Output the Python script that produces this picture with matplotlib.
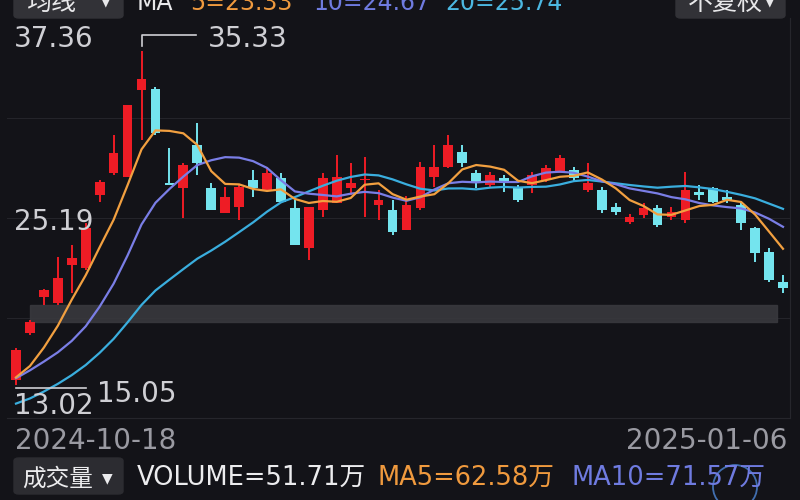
import numpy as np
import matplotlib.pyplot as plt
from matplotlib.patches import FancyBboxPatch, Rectangle, Ellipse
from matplotlib.transforms import blended_transform_factory

plt.rcParams['font.family'] = ['DejaVu Sans', 'Noto Sans CJK SC']

# daily candles, 2024-10-18 .. 2025-01-06
opens = [15.33, 18.19, 20.38, 20.02, 22.33, 22.15, 26.59, 27.93, 27.69, 32.98,
         33.04, 27.30, 27.02, 29.63, 27.02, 25.49, 25.86, 27.50, 26.89, 27.62,
         25.80, 23.36, 25.68, 26.10, 27.02, 27.50, 25.98, 25.68, 24.46, 25.80,
         27.69, 28.29, 29.21, 27.93, 27.20, 27.62, 27.08, 27.20, 27.50, 27.93,
         28.11, 26.89, 26.89, 25.86, 24.95, 25.37, 25.80, 25.25, 25.07, 26.77,
         27.02, 26.47, 25.98, 24.58, 23.12, 21.30]
highs = [17.25, 18.98, 20.87, 22.82, 23.55, 24.89, 27.50, 30.24, 32.07, 35.33,
         33.16, 29.45, 28.54, 30.97, 27.32, 27.08, 27.20, 28.11, 28.29, 27.93,
         26.29, 25.86, 27.93, 29.02, 28.54, 28.90, 26.89, 26.29, 26.53, 28.60,
         29.63, 30.24, 29.63, 28.11, 27.99, 27.81, 27.20, 27.99, 28.41, 29.02,
         28.29, 28.54, 27.08, 26.10, 25.43, 26.10, 25.98, 25.86, 27.99, 27.20,
         27.08, 26.89, 26.16, 24.64, 23.36, 21.72]
lows = [15.05, 18.07, 19.90, 19.90, 20.63, 22.03, 26.16, 27.81, 27.69, 29.94,
        30.24, 27.18, 25.19, 27.81, 25.68, 25.49, 25.07, 26.47, 26.89, 26.10,
        23.55, 22.63, 25.25, 26.10, 26.59, 25.25, 25.07, 24.16, 24.46, 25.68,
        27.08, 28.23, 28.29, 27.02, 27.08, 26.77, 26.16, 26.71, 27.38, 27.93,
        27.38, 26.77, 25.49, 25.37, 24.83, 25.19, 24.64, 25.07, 24.89, 26.29,
        26.10, 26.10, 24.46, 22.51, 21.30, 20.63]
closes = [17.16, 18.86, 20.81, 21.54, 22.76, 24.58, 27.38, 29.15, 32.07, 33.65,
          30.36, 27.22, 28.41, 28.54, 25.68, 26.47, 27.08, 27.02, 27.93, 26.16,
          23.55, 25.86, 27.62, 27.69, 27.32, 27.58, 26.29, 24.34, 25.98, 28.29,
          28.29, 29.63, 28.54, 27.32, 27.81, 27.32, 26.29, 27.81, 28.23, 28.84,
          27.62, 27.32, 25.68, 25.55, 25.25, 25.80, 24.76, 25.55, 26.89, 26.59,
          26.16, 26.29, 24.89, 23.06, 21.42, 20.93]
# closes before the visible window (estimated from where the MA lines start)
prior_closes = [12.6, 12.4, 12.2, 12.1, 12.3, 12.5, 12.2, 12.0, 12.4, 12.8,
                14.08, 15.49, 15.9, 15.8, 15.7, 15.4, 15.2, 14.9, 14.8]

date_labels = ['2024-10-18', '2025-01-06']
price_top, price_bottom = 37.36, 13.02
ma_header = {5: 23.33, 10: 24.67, 20: 25.74}
vol_header = {'VOLUME': 51.71, 'MA5': 62.58, 'MA10': 71.57}

bg = '#131318'
up_col = '#ee1c25'
down_col = '#74e4ee'
ma_cols = {5: '#f2a040', 10: '#7a7ee6', 20: '#3aaede'}
ma_txt = {5: '#f09a3e', 10: '#6f7be0', 20: '#4cb8e2'}
lbl = '#cfcfd4'

W, H = 800, 500
def fx(x): return x / W
def fy(y): return 1 - y / H

fig = plt.figure(figsize=(8, 5), dpi=100, facecolor=bg)
ax = fig.add_axes([fx(7), fy(418), fx(790) - fx(7), (418 - 18) / H], facecolor=bg)

n = len(closes)
x = np.arange(n)
o, h, l, c = map(np.array, (opens, highs, lows, closes))
step = (783 - 16) / (n - 1)
ax.set_xlim(-(16 - 7) / step, n - 1 + (790 - 783) / step)
ax.set_ylim(price_bottom, price_top)
ax.set_xticks([])
ax.set_yticks([])
for s in ax.spines.values():
    s.set_color('#26262c')
ax.spines['top'].set_visible(False)
ax.spines['left'].set_visible(False)

# grid
mid = (price_top + price_bottom) / 2
q = (price_top - price_bottom) / 4
for yv in (mid - q, mid, mid + q):
    ax.axhline(yv, color='#24242a', lw=0.8, zorder=0)

# gray overlay band (under the MA lines)
ax.add_patch(Rectangle((fx(30), fy(322)), fx(777) - fx(30), (322 - 305) / H,
                       transform=fig.transFigure, color='#3a3a3f', alpha=0.85, zorder=1))

# candles
cols = np.where(c >= o, up_col, down_col)
ax.vlines(x, l, h, colors=cols, lw=1.4, zorder=2)
body = np.maximum(np.abs(c - o), 0.08)
ax.bar(x, body, bottom=np.minimum(o, c), width=0.7, color=cols, zorder=3)

# moving averages
allc = np.array(prior_closes + closes)
k0 = len(prior_closes)
for w in (20, 10, 5):
    ma = np.convolve(allc, np.ones(w) / w, mode='valid')[k0 - w + 1:]
    ax.plot(x, ma, color=ma_cols[w], lw=1.6, zorder=4)

# price labels
fig.text(fx(14), fy(47), f'{price_top:.2f}', fontsize=20, color=lbl, va='baseline')
fig.text(fx(14), fy(230), f'{mid:.2f}', fontsize=20, color=lbl, va='baseline')
fig.text(fx(14), fy(414), f'{price_bottom:.2f}', fontsize=20, color=lbl, va='baseline')

# max / min markers
bt = blended_transform_factory(ax.transData, fig.transFigure)
ti = int(np.argmax(h))
ax.plot([ti, ti, ti + 54 / step], [fy(46), fy(35), fy(35)], color=lbl, lw=1.2,
        transform=bt, clip_on=False, zorder=5)
fig.text(fx(16 + ti * step + 66), fy(47), f'{h[ti]:.2f}', fontsize=20, color=lbl, va='baseline')
bi = int(np.argmin(l))
ax.plot([bi, bi + 70 / step], [fy(388), fy(388)], color=lbl, lw=1.2,
        transform=bt, clip_on=False, zorder=5)
fig.text(fx(16 + bi * step + 81), fy(402), f'{l[bi]:.2f}', fontsize=20, color=lbl, va='baseline')

# dates
fig.text(fx(15), fy(449), date_labels[0], fontsize=20, color='#9a9aa2', va='baseline')
fig.text(fx(787), fy(449), date_labels[1], fontsize=20, color='#9a9aa2', va='baseline', ha='right')

# top header (cut off by the top edge)
btn = dict(boxstyle='round,pad=0,rounding_size=0.006', transform=fig.transFigure,
           color='#323237', zorder=0)
fig.patches.append(FancyBboxPatch((fx(14), fy(18)), fx(123) - fx(14), 30 / H, **btn))
fig.patches.append(FancyBboxPatch((fx(676), fy(18)), fx(785) - fx(676), 30 / H, **btn))
fig.text(fx(26), fy(10), '均线', fontsize=18, color='#e8e8ea', va='baseline')
fig.text(fx(106), fy(5), '▼', fontsize=9, color='#e8e8ea', va='baseline', ha='center')
fig.text(fx(688), fy(10), '不复权', fontsize=18, color='#e8e8ea', va='baseline')
fig.text(fx(770), fy(5), '▼', fontsize=9, color='#e8e8ea', va='baseline', ha='center')
fig.text(fx(137), fy(10), 'MA', fontsize=17, color='#e8e8ea', va='baseline')
fig.text(fx(190), fy(10), f'5={ma_header[5]:.2f}', fontsize=17, color=ma_txt[5], va='baseline')
fig.text(fx(313), fy(10), f'10={ma_header[10]:.2f}', fontsize=17, color=ma_txt[10], va='baseline')
fig.text(fx(445), fy(10), f'20={ma_header[20]:.2f}', fontsize=17, color=ma_txt[20], va='baseline')

# volume header
fig.patches.append(FancyBboxPatch((fx(14), fy(494)), fx(123) - fx(14), 36 / H,
                                  boxstyle='round,pad=0,rounding_size=0.006',
                                  transform=fig.transFigure, color='#2c2c31', zorder=0))
fig.text(fx(22), fy(486), '成交量', fontsize=17, color='#ececee', va='baseline')
fig.text(fx(107), fy(482), '▼', fontsize=10, color='#ececee', va='baseline', ha='center')
fig.text(fx(137), fy(485), f"VOLUME={vol_header['VOLUME']:.2f}万", fontsize=18.5,
         color='#ececee', va='baseline')
fig.text(fx(378), fy(485), f"MA5={vol_header['MA5']:.2f}万", fontsize=18.5,
         color=ma_txt[5], va='baseline')
fig.text(fx(572), fy(485), f"MA10={vol_header['MA10']:.2f}万", fontsize=18.5,
         color=ma_txt[10], va='baseline')
fig.patches.append(Ellipse((fx(735), fy(487)), 44 / W, 44 / H, transform=fig.transFigure,
                           fill=False, ec='#4d86d6', lw=1.3, alpha=0.8))

fig.savefig('out.png', dpi=100, facecolor=bg)
